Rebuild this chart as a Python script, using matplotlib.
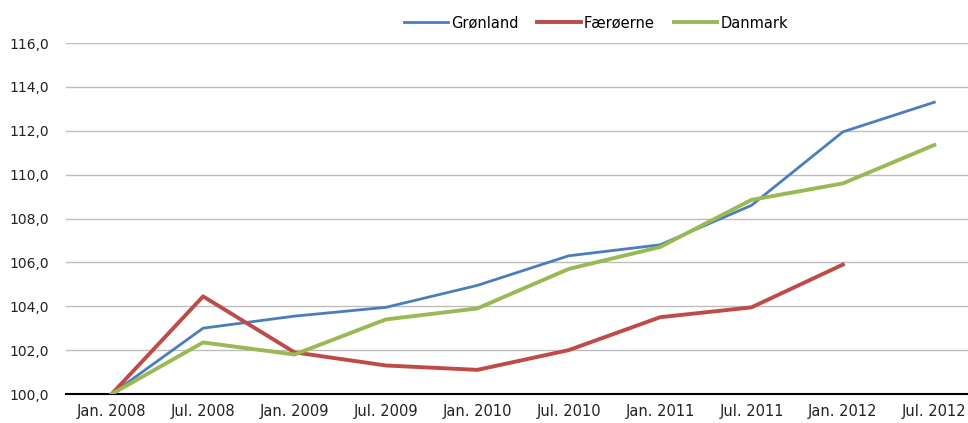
import matplotlib.pyplot as plt

plt.rcParams['font.family'] = ['Liberation Sans Narrow', 'DejaVu Sans']

periods = ["Jan. 2008", "Jul. 2008", "Jan. 2009", "Jul. 2009", "Jan. 2010",
           "Jul. 2010", "Jan. 2011", "Jul. 2011", "Jan. 2012", "Jul. 2012"]
groenland = [100.0, 103.0, 103.55, 103.95, 104.95, 106.3, 106.8, 108.6, 111.95, 113.3]
faeroeerne = [100.0, 104.45, 101.9, 101.3, 101.1, 102.0, 103.5, 103.95, 105.9]
danmark = [100.0, 102.35, 101.8, 103.4, 103.9, 105.7, 106.7, 108.85, 109.6, 111.35]

fig = plt.figure(figsize=(9.68, 4.23), dpi=100)
# plot area runs a bit past the right edge, like the cropped original
ax = fig.add_axes([66 / 968, 29 / 423, 914 / 968, 351 / 423])

x = list(range(len(periods)))
ax.plot(x, groenland, color='#4A7EBB', lw=2.0, label='Grønland')
ax.plot(x[:len(faeroeerne)], faeroeerne, color='#BE4B48', lw=2.8, label='Færøerne')
ax.plot(x, danmark, color='#98B954', lw=2.8, label='Danmark')

ax.set_xlim(-0.5, len(periods) - 0.5)
ax.set_ylim(100, 116)
ax.set_yticks(range(100, 117, 2))
ax.set_yticklabels([f"{v},0" for v in range(100, 117, 2)])
ax.set_xticks(x)
ax.set_xticklabels(periods)
ax.tick_params(axis='both', length=0, labelsize=10.5, colors='#222222')
ax.tick_params(axis='y', pad=12, labelsize=10)
ax.tick_params(axis='x', pad=7)

ax.grid(axis='y', color='#bdbdbd', lw=1.0)
ax.set_axisbelow(True)
for s in ['top', 'right', 'left']:
    ax.spines[s].set_visible(False)
ax.spines['bottom'].set_color('black')
ax.spines['bottom'].set_linewidth(1.5)
ax.spines['bottom'].set_zorder(1)

fig.legend(loc='center', bbox_to_anchor=(596 / 968, 1 - 23 / 423), ncol=3,
           frameon=False, fontsize=10.5, handlelength=3.0, handletextpad=0.2,
           columnspacing=1.3)

fig.savefig('out.png', dpi=100)
